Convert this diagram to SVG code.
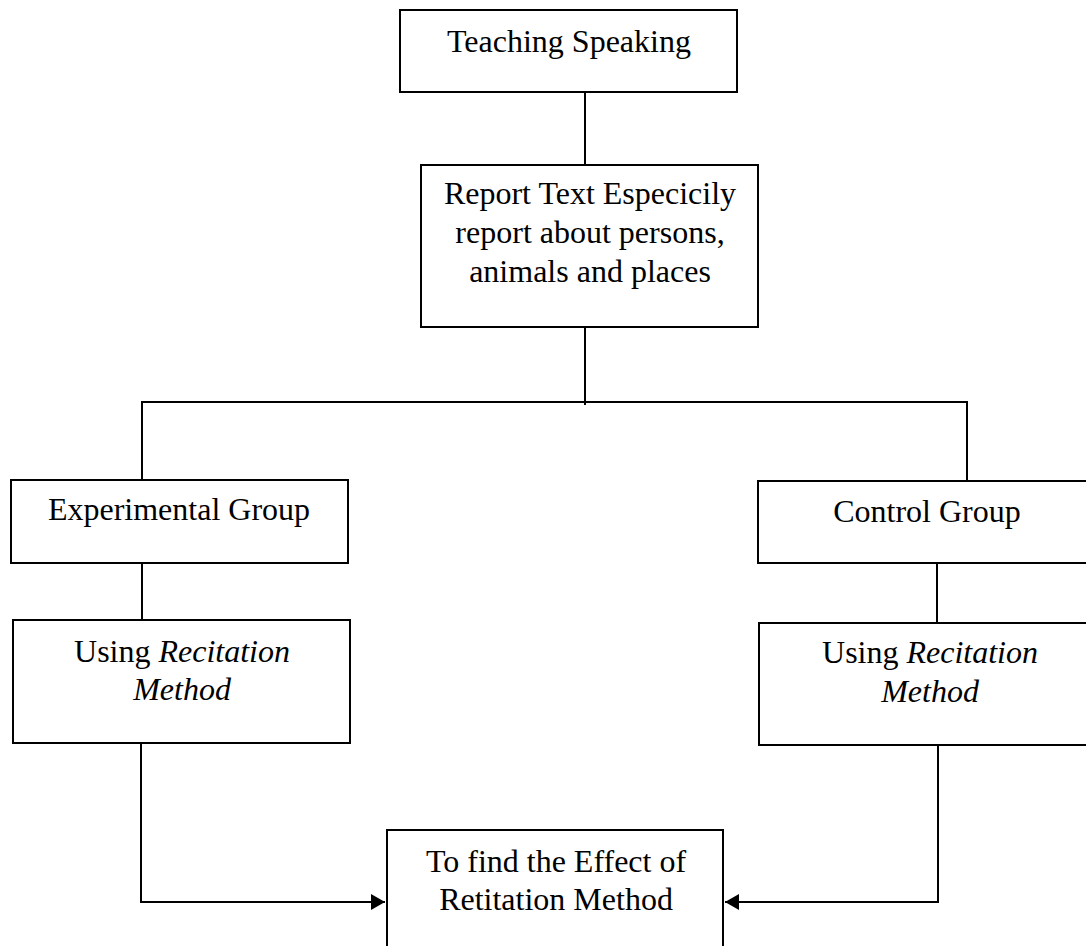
<svg xmlns="http://www.w3.org/2000/svg" width="1086" height="946" viewBox="0 0 1086 946">
<style>
.box{fill:#fff;stroke:#000;stroke-width:2}
.t{font-family:"Liberation Serif","Times New Roman",serif;font-size:32px;fill:#000;text-anchor:middle}
.i{font-style:italic}
.c{fill:none;stroke:#000;stroke-width:2}
</style>
<defs>
<marker id="ah" markerWidth="8" markerHeight="8" refX="7" refY="4" orient="auto" markerUnits="strokeWidth">
<path d="M0,0 L7,4 L0,8 Z" fill="#000"/>
</marker>
</defs>
<rect width="1086" height="946" fill="#fff"/>
<g id="connectors">
<path class="c" d="M585,92 V165"/>
<path class="c" d="M585,327 V405"/>
<path class="c" d="M142,480 V402 H967 V481"/>
<path class="c" d="M142,563 V620"/>
<path class="c" d="M937,561 V623"/>
<path class="c" d="M141,743 V902 H385" marker-end="url(#ah)"/>
<path class="c" d="M938,745 V902 H725" marker-end="url(#ah)"/>
</g>
<g id="teaching">
<rect class="box" x="400" y="10" width="337" height="82"/>
<text class="t" x="569" y="52">Teaching Speaking</text>
</g>
<g id="report">
<rect class="box" x="421" y="165" width="337" height="162"/>
<text class="t" x="590" y="204">Report Text Especicily</text>
<text class="t" x="590" y="243">report about persons,</text>
<text class="t" x="590" y="282">animals and places</text>
</g>
<g id="experimental">
<rect class="box" x="11" y="480" width="337" height="83"/>
<text class="t" x="179" y="520">Experimental Group</text>
</g>
<g id="control">
<rect class="box" x="758" y="481" width="340" height="82"/>
<text class="t" x="927" y="522">Control Group</text>
</g>
<g id="using-left">
<rect class="box" x="13" y="620" width="337" height="123"/>
<text class="t" x="182" y="662">Using <tspan class="i">Recitation</tspan></text>
<text class="t i" x="182" y="700">Method</text>
</g>
<g id="using-right">
<rect class="box" x="759" y="623" width="340" height="122"/>
<text class="t" x="930" y="663">Using <tspan class="i">Recitation</tspan></text>
<text class="t i" x="930" y="702">Method</text>
</g>
<g id="effect">
<rect class="box" x="387" y="830" width="336" height="130"/>
<text class="t" x="556" y="872">To find the Effect of</text>
<text class="t" x="556" y="910">Retitation Method</text>
</g>
</svg>
